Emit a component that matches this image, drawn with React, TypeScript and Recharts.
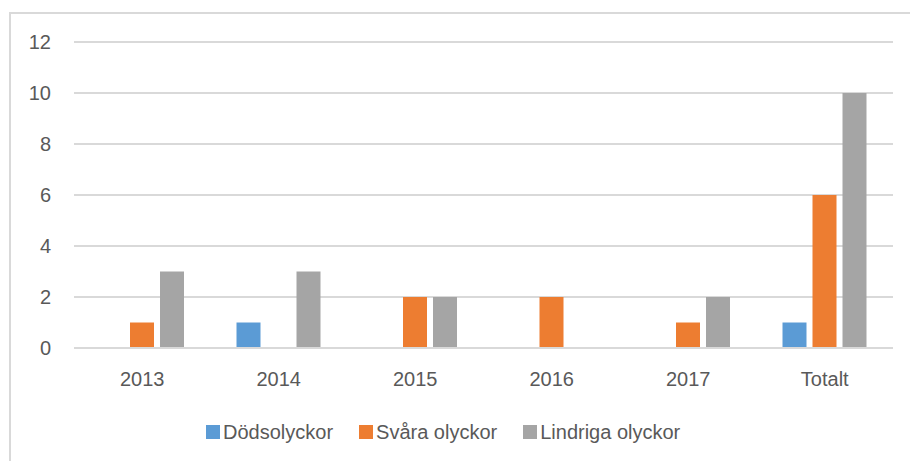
import { BarChart, Bar, XAxis, YAxis, CartesianGrid } from "recharts";

const categories = ["2013", "2014", "2015", "2016", "2017", "Totalt"];
const dodsolyckor = [0, 1, 0, 0, 0, 1];
const svaraOlyckor = [1, 0, 2, 2, 1, 6];
const lindrigaOlyckor = [3, 3, 2, 0, 2, 10];
const yTicks = [0, 2, 4, 6, 8, 10, 12];

const series = [
  { key: "dods", name: "Dödsolyckor", color: "#5B9BD5" },
  { key: "svara", name: "Svåra olyckor", color: "#ED7D31" },
  { key: "lindriga", name: "Lindriga olyckor", color: "#A5A5A5" },
];

const data = categories.map((c, i) => ({
  label: c,
  dods: dodsolyckor[i],
  svara: svaraOlyckor[i],
  lindriga: lindrigaOlyckor[i],
}));

const FONT = '"Liberation Sans", Arial, sans-serif';
const TEXT = "#595959";
const GRID = "#D9D9D9";

function ChartLegend() {
  return (
    <div
      style={{
        position: "absolute",
        left: 206,
        top: 421,
        display: "flex",
        alignItems: "center",
        height: 22,
      }}
    >
      {series.map((s) => (
        <div
          key={s.key}
          style={{ display: "flex", alignItems: "center", marginRight: 26 }}
        >
          <span
            style={{
              width: 14,
              height: 14,
              background: s.color,
              display: "inline-block",
              marginRight: 3,
            }}
          />
          <span style={{ fontSize: 20, color: TEXT, fontFamily: FONT }}>
            {s.name}
          </span>
        </div>
      ))}
    </div>
  );
}

export default function App() {
  return (
    <div
      style={{
        position: "absolute",
        left: 0,
        top: 0,
        width: 910,
        height: 461,
        background: "#fff",
        fontFamily: FONT,
        overflow: "hidden",
      }}
    >
      <div
        style={{
          position: "absolute",
          left: 9,
          top: 12,
          width: 910,
          height: 460,
          borderTop: `2px solid ${GRID}`,
          borderLeft: `2px solid ${GRID}`,
        }}
      />
      <BarChart
        width={910}
        height={461}
        data={data}
        margin={{ top: 42, right: 17, bottom: 63, left: 14 }}
        barSize={24}
        barGap={6}
      >
        <CartesianGrid vertical={false} stroke={GRID} strokeWidth={2} />
        <XAxis
          dataKey="label"
          height={50}
          axisLine={{ stroke: GRID, strokeWidth: 2 }}
          tickLine={false}
          tickMargin={18}
          tick={{ fill: TEXT, fontSize: 20, fontFamily: FONT }}
        />
        <YAxis
          width={60}
          domain={[0, 12]}
          ticks={yTicks}
          axisLine={false}
          tickLine={false}
          tickMargin={17}
          tick={{ fill: TEXT, fontSize: 20, fontFamily: FONT }}
        />
        {series.map((s) => (
          <Bar
            key={s.key}
            dataKey={s.key}
            name={s.name}
            fill={s.color}
            isAnimationActive={false}
          />
        ))}
      </BarChart>
      <ChartLegend />
    </div>
  );
}
